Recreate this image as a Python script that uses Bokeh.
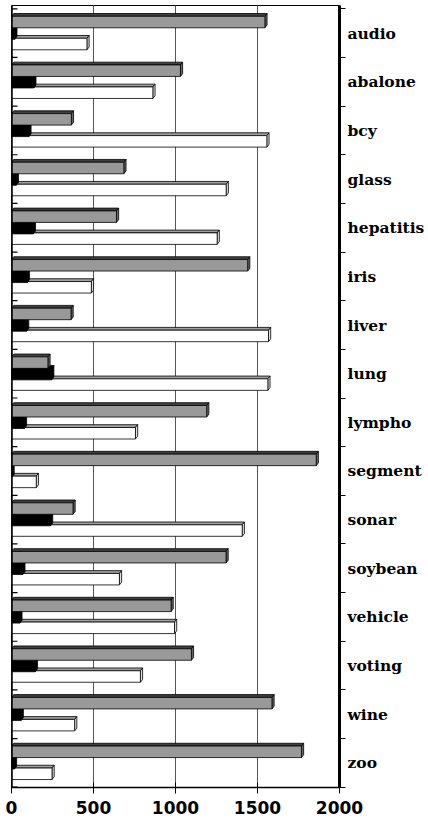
from bokeh.plotting import figure
from bokeh.models import Range1d, FixedTicker, Span
from bokeh.embed import file_html
from bokeh.resources import INLINE

categories = ["audio", "abalone", "bcy", "glass", "hepatitis", "iris", "liver", "lung",
              "lympho", "segment", "sonar", "soybean", "vehicle", "voting", "wine", "zoo"]
gray_vals = [1545, 1030, 365, 685, 640, 1440, 363, 222, 1190, 1858, 375, 1308, 973, 1097, 1588, 1768]
black_vals = [20, 136, 106, 29, 133, 96, 92, 245, 79, 3, 238, 69, 51, 145, 59, 18]
white_vals = [460, 862, 1557, 1309, 1254, 487, 1567, 1563, 756, 151, 1407, 658, 994, 786, 385, 247]
x_ticks = [0, 500, 1000, 1500, 2000]

n = len(categories)
FRAME_W, FRAME_H = 328, 782
BAND_PX = 48.65                  # pixel height of one category band
TOP_OFF = 3.3                    # first band boundary below frame top (px)
ppu_y = BAND_PX
ppu_x = FRAME_W / 2000.0

y_top = -TOP_OFF / BAND_PX
y_bot = y_top + FRAME_H / BAND_PX

p = figure(frame_width=FRAME_W, frame_height=FRAME_H,
           x_range=Range1d(0, 2000), y_range=Range1d(y_bot, y_top),
           output_backend="svg", toolbar_location=None, y_axis_location="right",
           min_border_left=11, min_border_right=89, min_border_top=5,
           min_border_bottom=33)
p.background_fill_color = "white"
p.border_fill_color = "white"
p.outline_line_color = "black"
p.outline_line_width = 1

# grid
p.xgrid.ticker = FixedTicker(ticks=x_ticks)
p.xgrid.grid_line_color = "#555555"
p.xgrid.grid_line_width = 1
p.ygrid.visible = False

dx = 2.2 / ppu_x      # 3D depth offset (x, in value units)
fh = 2.8 / ppu_y      # 3D depth offset (y, in band units)


def draw_series(vals, top_px, bot_px, body, face, side):
    lefts, rights, tops, bots = [], [], [], []
    fx, fy, sx, sy = [], [], [], []
    for i, v in enumerate(vals):
        yt = i + top_px / ppu_y
        yb = i + bot_px / ppu_y
        lefts.append(0); rights.append(v); tops.append(yt); bots.append(yb)
        fx.append([0, v, v + dx, dx]); fy.append([yt, yt, yt - fh, yt - fh])
        sx.append([v, v + dx, v + dx, v]); sy.append([yt, yt - fh, yb - fh, yb])
    p.patches(fx, fy, fill_color=face, line_color="black", line_width=0.8)
    p.patches(sx, sy, fill_color=side, line_color="black", line_width=0.8)
    p.quad(left=lefts, right=rights, top=tops, bottom=bots,
           fill_color=body, line_color="black", line_width=0.8)


draw_series(white_vals, 29.5, 41.0, "#ffffff", "#a0a0a0", "#e0e0e0")
draw_series(black_vals, 19.0, 30.5, "#000000", "#000000", "#000000")
draw_series(gray_vals, 7.5, 19.0, "#999999", "#404040", "#666666")

# small back-wall ticks at category boundaries (left)
bounds = list(range(n + 1))
p.segment(x0=[0] * len(bounds), y0=bounds, x1=[6 / ppu_x] * len(bounds), y1=bounds,
          line_color="black", line_width=1.2)

# left wall line
p.add_layout(Span(location=0, dimension="height", line_color="black", line_width=2.5))

# right axis with category labels
centers = [i + 0.5 for i in range(n)]
ya = p.yaxis[0]
ya.ticker = FixedTicker(ticks=centers, minor_ticks=bounds)
ya.major_label_overrides = {c: name for c, name in zip(centers, categories)}
ya.major_tick_out = 0
ya.major_tick_in = 0
ya.minor_tick_out = 6
ya.minor_tick_in = 0
ya.minor_tick_line_color = "black"
ya.minor_tick_line_width = 1.2
ya.axis_line_color = "black"
ya.axis_line_width = 3
ya.major_label_standoff = 2
ya.major_label_text_font = "DejaVu Serif"
ya.major_label_text_font_style = "bold"
ya.major_label_text_font_size = "15.5px"
ya.major_label_text_color = "black"

# bottom axis
xa = p.xaxis[0]
xa.ticker = FixedTicker(ticks=x_ticks)
xa.major_label_overrides = {t: str(t) for t in x_ticks}
xa.major_tick_in = 5
xa.major_tick_out = 6
xa.minor_tick_line_color = None
xa.major_tick_line_color = "black"
xa.axis_line_color = "black"
xa.axis_line_width = 1.5
xa.major_label_standoff = 7
xa.major_label_text_font = "DejaVu Sans"
xa.major_label_text_font_style = "bold"
xa.major_label_text_font_size = "17px"
xa.major_label_text_color = "black"

open("out.html", "w").write(file_html(p, INLINE))
